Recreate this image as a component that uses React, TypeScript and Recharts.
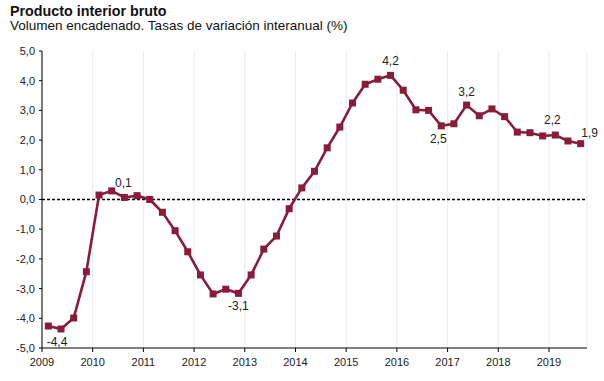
import { LineChart, Line, XAxis, YAxis, CartesianGrid, ReferenceLine, LabelList } from "recharts";

// quarterly year-on-year change (%), one array per year
const years = [2009, 2010, 2011, 2012, 2013, 2014, 2015, 2016, 2017, 2018, 2019];
const q2009 = [-4.26, -4.36, -3.99, -2.43];
const q2010 = [0.15, 0.29, 0.07, 0.13];
const q2011 = [0.0, -0.43, -1.05, -1.76];
const q2012 = [-2.54, -3.18, -3.02, -3.16];
const q2013 = [-2.54, -1.67, -1.23, -0.31];
const q2014 = [0.39, 0.95, 1.74, 2.44];
const q2015 = [3.25, 3.88, 4.05, 4.18];
const q2016 = [3.68, 3.02, 3.0, 2.48];
const q2017 = [2.55, 3.18, 2.82, 3.05];
const q2018 = [2.79, 2.27, 2.25, 2.14];
const q2019 = [2.17, 1.97, 1.88];
const yTicks = [-5, -4, -3, -2, -1, 0, 1, 2, 3, 4, 5];

// annotated points: [point index, text]
const pointLabels: [number, string][] = [
  [1, "-4,4"],
  [6, "0,1"],
  [15, "-3,1"],
  [27, "4,2"],
  [31, "2,5"],
  [33, "3,2"],
  [40, "2,2"],
  [42, "1,9"],
];

const perYear = [q2009, q2010, q2011, q2012, q2013, q2014, q2015, q2016, q2017, q2018, q2019];
const data = perYear.flatMap((vals, yi) =>
  vals.map((v, q) => ({ t: years[yi] + (q + 0.5) / 4, value: v }))
);
const labelText: Record<number, string> = Object.fromEntries(pointLabels);

// where each label sits relative to its point
const labelOffset: Record<number, [number, number]> = {
  1: [-4, 13],
  6: [-1, -14],
  15: [0, 13],
  27: [0, -14],
  31: [-3, 13],
  33: [0, -13],
  40: [-3, -15],
  42: [9, -11],
};

const RED = "#8a1c3b";

const SquareDot = (props: any) => {
  const { cx, cy } = props;
  if (cx == null || cy == null) return null;
  return <rect x={cx - 3.5} y={cy - 3.5} width={7} height={7} fill={RED} />;
};

const PointLabel = (props: any) => {
  const { x, y, index } = props;
  const text = labelText[index];
  if (!text) return null;
  const [dx, dy] = labelOffset[index] || [0, -12];
  return (
    <text x={x + dx} y={y + dy} textAnchor="middle" dominantBaseline="central" fontSize={12} fill="#222">
      {text}
    </text>
  );
};

const fmt = (v: number) => v.toFixed(1).replace(".", ",");

export default function App() {
  return (
    <div
      style={{
        position: "absolute",
        left: 0,
        top: 0,
        width: 604,
        height: 381,
        background: "#fff",
        fontFamily: "'Liberation Sans', Arial, sans-serif",
      }}
    >
      <div style={{ position: "absolute", left: 10, top: 3, fontSize: 14.3, fontWeight: "bold", color: "#111", lineHeight: "16px" }}>
        Producto interior bruto
      </div>
      <div style={{ position: "absolute", left: 10, top: 18, fontSize: 13.5, color: "#111", lineHeight: "16px" }}>
        Volumen encadenado. Tasas de variación interanual (%)
      </div>
      <div style={{ position: "absolute", left: 0, top: 0 }}>
        <LineChart width={604} height={381} data={data} margin={{ top: 51, right: 17, bottom: 0, left: 0 }}>
          <CartesianGrid horizontal={false} stroke="#e3edf2" />
          <XAxis
            dataKey="t"
            type="number"
            domain={[2009, 2019.75]}
            ticks={years}
            allowDataOverflow
            height={33}
            tickSize={4}
            tickMargin={6}
            stroke="#000"
            tick={{ fill: "#222", fontSize: 11 }}
          />
          <YAxis
            type="number"
            domain={[-5, 5]}
            ticks={yTicks}
            width={42}
            tickSize={3}
            tickMargin={4}
            stroke="#000"
            tickFormatter={fmt}
            tick={{ fill: "#222", fontSize: 11 }}
          />
          <ReferenceLine y={0} stroke="#000" strokeWidth={1.3} strokeDasharray="3 2" />
          <Line
            type="linear"
            dataKey="value"
            stroke={RED}
            strokeWidth={2.6}
            dot={<SquareDot />}
            activeDot={false}
            isAnimationActive={false}
          >
            <LabelList dataKey="value" content={<PointLabel />} />
          </Line>
        </LineChart>
      </div>
    </div>
  );
}
